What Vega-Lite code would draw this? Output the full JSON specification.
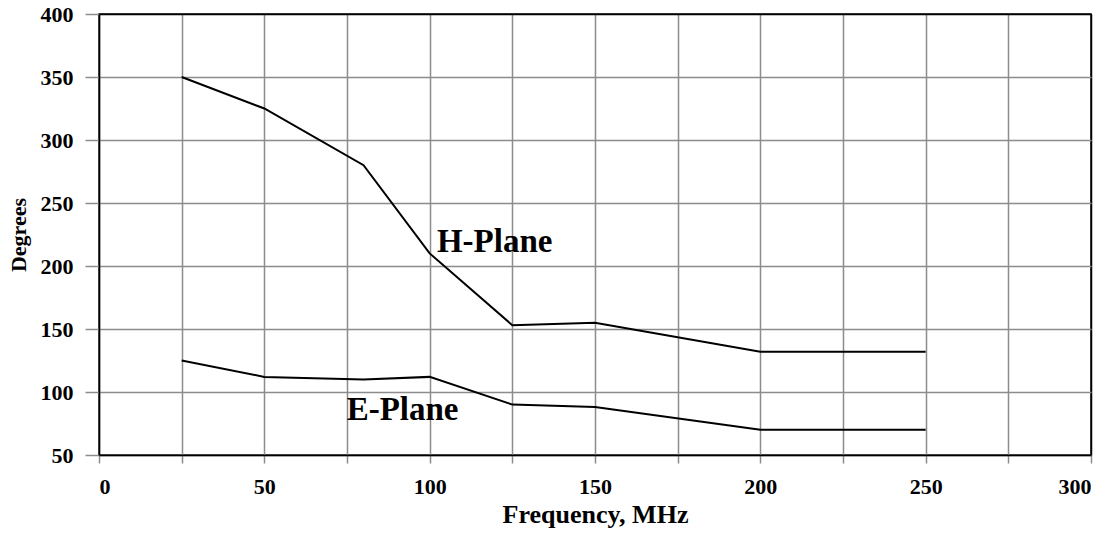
{
  "$schema": "https://vega.github.io/schema/vega-lite/v6.json",
  "width": 992,
  "height": 441,
  "autosize": "none",
  "padding": {"left": 99, "top": 14, "right": 21, "bottom": 83},
  "background": "white",
  "config": {
    "font": "Liberation Serif",
    "view": {"stroke": "black", "strokeWidth": 1.5},
    "axis": {
      "labelFont": "Liberation Serif",
      "labelFontWeight": "bold",
      "labelFontSize": 22,
      "labelColor": "black",
      "titleFont": "Liberation Serif",
      "titleFontWeight": "bold",
      "titleColor": "black",
      "gridColor": "#8c8c8c",
      "gridWidth": 1.5,
      "gridOpacity": 1,
      "tickColor": "#8c8c8c",
      "tickWidth": 1.5,
      "domainColor": "black",
      "domainWidth": 1.5
    }
  },
  "datasets": {
    "curves": [
      {"freq": 25, "deg": 350, "plane": "H"},
      {"freq": 50, "deg": 325, "plane": "H"},
      {"freq": 80, "deg": 280, "plane": "H"},
      {"freq": 100, "deg": 210, "plane": "H"},
      {"freq": 125, "deg": 153, "plane": "H"},
      {"freq": 150, "deg": 155, "plane": "H"},
      {"freq": 200, "deg": 132, "plane": "H"},
      {"freq": 250, "deg": 132, "plane": "H"},
      {"freq": 25, "deg": 125, "plane": "E"},
      {"freq": 50, "deg": 112, "plane": "E"},
      {"freq": 80, "deg": 110, "plane": "E"},
      {"freq": 100, "deg": 112, "plane": "E"},
      {"freq": 125, "deg": 90, "plane": "E"},
      {"freq": 150, "deg": 88, "plane": "E"},
      {"freq": 200, "deg": 70, "plane": "E"},
      {"freq": 250, "deg": 70, "plane": "E"}
    ],
    "labels": [
      {"freq": 102.2, "deg": 211, "text": "H-Plane"},
      {"freq": 74.9, "deg": 78, "text": "E-Plane"}
    ]
  },
  "layer": [
    {
      "data": {"name": "curves"},
      "mark": {"type": "line", "color": "black", "strokeWidth": 2},
      "encoding": {
        "x": {
          "field": "freq", "type": "quantitative",
          "scale": {"domain": [0, 300], "nice": false},
          "axis": {
            "title": "Frequency, MHz",
            "titleFontSize": 26,
            "titlePadding": 4,
            "values": [0, 25, 50, 75, 100, 125, 150, 175, 200, 225, 250, 275, 300],
            "labelExpr": "datum.value % 50 === 0 ? datum.label : ''",
            "tickSize": 8,
            "labelPadding": 13,
            "gridColor": {"condition": {"test": "datum.value === 300", "value": "black"}, "value": "#8c8c8c"}
          }
        },
        "y": {
          "field": "deg", "type": "quantitative",
          "scale": {"domain": [50, 400], "nice": false, "zero": false},
          "axis": {
            "title": "Degrees",
            "titleFontSize": 22,
            "titlePadding": 10,
            "values": [50, 75, 100, 125, 150, 175, 200, 225, 250, 275, 300, 325, 350, 375, 400],
            "labelExpr": "datum.value % 50 === 0 ? datum.label : ''",
            "tickSize": {"condition": {"test": "datum.value % 50 === 0", "value": 14}, "value": 9},
            "labelPadding": 12,
            "gridColor": {"condition": {"test": "datum.value === 400", "value": "black"}, "value": "#8c8c8c"}
          }
        },
        "detail": {"field": "plane"}
      }
    },
    {
      "data": {"name": "labels"},
      "mark": {"type": "text", "align": "left", "baseline": "alphabetic", "font": "Liberation Serif", "fontWeight": "bold", "fontSize": 33, "color": "black"},
      "encoding": {
        "x": {"field": "freq", "type": "quantitative"},
        "y": {"field": "deg", "type": "quantitative"},
        "text": {"field": "text"}
      }
    }
  ]
}
